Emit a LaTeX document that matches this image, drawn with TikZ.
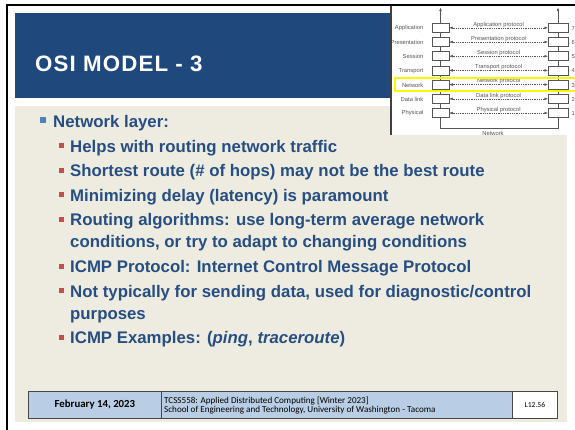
\documentclass[tikz,border=0pt]{standalone}
\usepackage{fontspec}
\setmainfont{Liberation Sans}
\newfontfamily\titlefont[LetterSpace=5]{Liberation Sans Bold}
\newfontfamily\footfont{Carlito}
\usetikzlibrary{arrows.meta}

\definecolor{slideblue}{RGB}{31,73,125}
\definecolor{slidetan}{RGB}{238,236,225}
\definecolor{bodyblue}{RGB}{38,78,130}
\definecolor{bulletblue}{RGB}{79,129,189}
\definecolor{bulletred}{RGB}{192,80,77}
\definecolor{footblue}{RGB}{185,205,229}
\definecolor{footline}{RGB}{70,70,70}
\definecolor{osigray}{RGB}{85,85,85}
\definecolor{hiyellow}{RGB}{248,248,0}

\begin{document}
\begin{tikzpicture}[x=1pt,y=-1pt,
  bodytext/.style={anchor=base west,inner sep=0pt,text=bodyblue,
    font=\bfseries\fontsize{16.8}{18}\selectfont},
  bulletone/.style={fill=bulletblue,inner sep=0pt,minimum size=6pt,draw=none,rectangle},
  bullettwo/.style={fill=bulletred,inner sep=0pt,minimum size=5pt,draw=none,rectangle},
  footbox/.style={draw=footline,line width=0.8pt,anchor=north west,inner sep=0pt,minimum height=27pt},
  osibox/.style={draw=osigray,fill=white,line width=0.5pt,minimum width=17pt,minimum height=9pt,inner sep=0pt},
  osiboxr/.style={osibox,minimum width=19.5pt},
  osilabel/.style={text=osigray,inner sep=0pt,font=\fontsize{5.8}{6}\selectfont},
  protocol/.style={draw=osigray,line width=0.45pt,dash pattern=on 0.9pt off 0.9pt,
    {Latex[length=3.5pt,width=2.6pt]}-{Latex[length=3.5pt,width=2.6pt]}},
  stackline/.style={draw=osigray,line width=0.5pt}]

\useasboundingbox (0,0) rectangle (575,429);
\fill[white] (0,0) rectangle (575,429);

% slide frame
\draw[line width=2.4pt,black] (7,430) -- (7,5) -- (576,5);

% title band and content area
\fill[slideblue] (15,13) rectangle (575,97.5);
\fill[slidetan] (15,106) rectangle (567,422);
\node[anchor=base west,inner sep=0pt,text=white,
  font=\titlefont\fontsize{22.3}{24}\selectfont] (title) at (35,71) {OSI MODEL - 3};

% bullet list
\node[bulletone] (b0) at (43,120) {};
\node[bodytext] (t0) at (53,127) {Network layer:};
\node[bullettwo] (b1) at (61.5,145.5) {};
\node[bodytext] (t1) at (70,152) {Helps with routing network traffic};
\node[bullettwo] (b2) at (61.5,170) {};
\node[bodytext] (t2) at (70,176.5) {Shortest route (\# of hops) may not be the best route};
\node[bullettwo] (b3) at (61.5,194.5) {};
\node[bodytext] (t3) at (70,201) {Minimizing delay (latency) is paramount};
\node[bullettwo] (b4) at (61.5,219) {};
\node[bodytext] (t4) at (70,225.5) {Routing algorithms: use long-term average network};
\node[bodytext] (t4b) at (70,247.5) {conditions, or try to adapt to changing conditions};
\node[bullettwo] (b5) at (61.5,266) {};
\node[bodytext] (t5) at (70,272.5) {ICMP Protocol: Internet Control Message Protocol};
\node[bullettwo] (b6) at (61.5,290.5) {};
\node[bodytext] (t6) at (70,297) {Not typically for sending data, used for diagnostic/control};
\node[bodytext] (t6b) at (70,319) {purposes};
\node[bullettwo] (b7) at (61.5,337) {};
\node[bodytext] (t7) at (70,343.5) {ICMP Examples: (\textit{ping}, \textit{traceroute})};

% footer
\node[footbox,fill=footblue,minimum width=133pt] (datebox) at (28,391) {};
\node[footbox,fill=footblue,minimum width=351pt] (coursebox) at (161,391) {};
\node[footbox,fill=white,minimum width=45pt] (pagebox) at (512,391) {};
\node[inner sep=0pt,font=\footfont\bfseries\fontsize{10.8}{12}\selectfont] (date) at (datebox.center) {February 14, 2023};
\node[anchor=west,inner sep=0pt,align=left,font=\footfont\fontsize{9.1}{9.5}\selectfont] (course) at (164,405.5)
  {TCSS558: Applied Distributed Computing [Winter 2023]\\School of Engineering and Technology, University of Washington - Tacoma};
\node[inner sep=0pt,font=\footfont\fontsize{7.6}{8}\selectfont] (page) at (pagebox.center) {L12.56};

% OSI reference model figure
\begin{scope}
  \clip (391,6.2) rectangle (575,135);
  \fill[white] (391,6.2) rectangle (575,135);
  \coordinate (ltop) at (440.5,7.5);
  \coordinate (lbot) at (440.5,128.5);
  \coordinate (rtop) at (558,7.5);
  \coordinate (rbot) at (558,128.5);
  \draw[stackline,-{Latex[length=3.5pt,width=2.6pt]}] (lbot) -- (ltop);
  \draw[stackline,-{Latex[length=3.5pt,width=2.6pt]}] (rbot) -- (rtop);
  \draw[stackline] (lbot) -- (rbot);
  \foreach \i/\lay/\proto/\num in {0/Application/Application protocol/7,
      1/Presentation/Presentation protocol/6,2/Session/Session protocol/5,
      3/Transport/Transport protocol/4,4/Network/Network protocol/3,
      5/Data link/Data link protocol/2,6/Physical/Physical protocol/1}{
    \pgfmathsetmacro\yy{27.8+14.2*\i}
    \node[osibox] (l\i) at (440.5,\yy) {};
    \node[osiboxr] (r\i) at (558,\yy) {};
    \node[osilabel,anchor=east] (lay\i) at (423.5,\yy+0.4) {\lay};
    \node[osilabel,anchor=west] (num\i) at (571.5,\yy+0.4) {\num};
    \draw[protocol] (l\i.east) -- (r\i.west)
      node[osilabel,midway,yshift=3.3pt] (pr\i) {\proto};
  }
  \node[osilabel] (net) at (493,133.2) {Network};
  % highlight of the network layer
  \draw[hiyellow,line width=2pt] (395,78) rectangle (590,91);
\end{scope}
\draw[line width=1.1pt,black!75] (391,6.2) -- (391,135);

\end{tikzpicture}
\end{document}
